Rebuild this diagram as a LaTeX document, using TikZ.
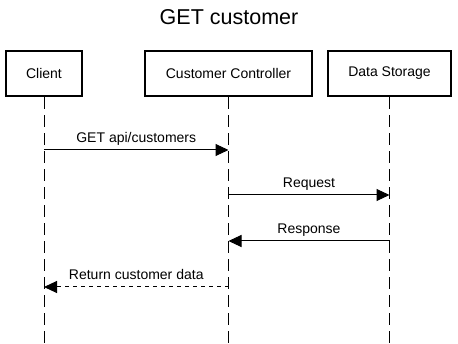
\documentclass[tikz,border=0pt]{standalone}
\usepackage{fontspec}
\setmainfont{Liberation Sans}
\usetikzlibrary{arrows.meta}

\begin{document}
\begin{tikzpicture}[x=1pt,y=-1pt,
  participant/.style={draw, line width=2.1pt, minimum height=45pt, inner sep=0pt,
    font=\fontsize{14}{16}\selectfont},
  lifeline/.style={line width=1pt, dash pattern=on 12pt off 6pt},
  msg/.style={line width=1pt, -{Triangle[length=13pt,width=12pt]}},
  reply/.style={msg, dash pattern=on 4pt off 4pt},
  msglabel/.style={font=\fontsize{14}{16}\selectfont, anchor=base, inner sep=0pt, yshift=7pt}
]
  \useasboundingbox (0,0) rectangle (458,344);

  % title
  \node[font=\fontsize{21.5}{24}\selectfont] (title) at (229,17) {GET customer};

  % participants
  \node[participant, minimum width=76pt]  (client) at (44,73.5)    {Client};
  \node[participant, minimum width=167pt] (ctrl)   at (228.5,73.5) {Customer Controller};
  \node[participant, minimum width=123pt] (store)  at (389.5,73.5) {Data Storage};

  % lifeline ends
  \coordinate (clientEnd) at (44,344);
  \coordinate (ctrlEnd)   at (228.5,344);
  \coordinate (storeEnd)  at (389.5,344);

  \draw[lifeline] (client.south) -- (clientEnd);
  \draw[lifeline] (ctrl.south)   -- (ctrlEnd);
  \draw[lifeline] (store.south)  -- (storeEnd);

  % message anchor points on the lifelines
  \coordinate (c1) at (44,150);    \coordinate (k1) at (228.5,150);
  \coordinate (k2) at (228.5,195); \coordinate (s2) at (389.5,195);
  \coordinate (s3) at (389.5,241); \coordinate (k3) at (228.5,241);
  \coordinate (k4) at (228.5,287); \coordinate (c4) at (44,287);

  \draw[msg]   (c1) -- (k1) node[msglabel, midway] {GET api/customers};
  \draw[msg]   (k2) -- (s2) node[msglabel, midway] {Request};
  \draw[msg]   (s3) -- (k3) node[msglabel, midway] {Response};
  \draw[reply] (k4) -- (c4) node[msglabel, midway] {Return customer data};
\end{tikzpicture}
\end{document}
